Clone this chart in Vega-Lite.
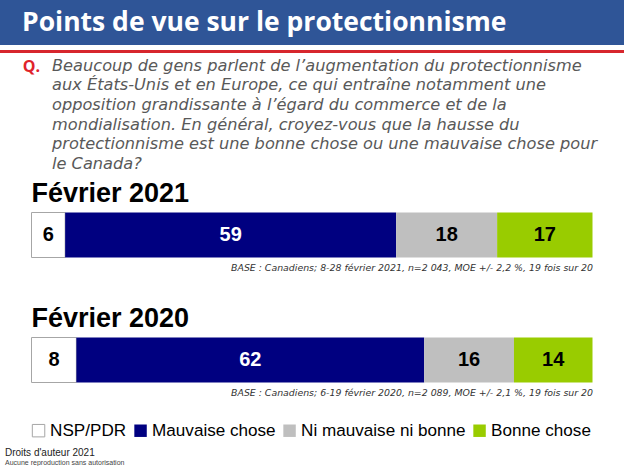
{
  "$schema": "https://vega.github.io/schema/vega-lite/v6.json",
  "padding": 0,
  "background": "white",
  "spacing": 0,
  "config": {
    "view": {"stroke": null},
    "concat": {"spacing": 0},
    "font": "Liberation Sans"
  },
  "datasets": {
    "bars": [
      {"periode": "Février 2021", "cat": "NSP/PDR", "ord": 1, "pct": 6},
      {"periode": "Février 2021", "cat": "Mauvaise chose", "ord": 2, "pct": 59},
      {"periode": "Février 2021", "cat": "Ni mauvaise ni bonne", "ord": 3, "pct": 18},
      {"periode": "Février 2021", "cat": "Bonne chose", "ord": 4, "pct": 17},
      {"periode": "Février 2020", "cat": "NSP/PDR", "ord": 1, "pct": 8},
      {"periode": "Février 2020", "cat": "Mauvaise chose", "ord": 2, "pct": 62},
      {"periode": "Février 2020", "cat": "Ni mauvaise ni bonne", "ord": 3, "pct": 16},
      {"periode": "Février 2020", "cat": "Bonne chose", "ord": 4, "pct": 14}
    ],
    "empty": [{"k": 1}]
  },
  "title": {
    "text": "Droits d'auteur 2021",
    "subtitle": "Aucune reproduction sans autorisation",
    "orient": "bottom",
    "anchor": "start",
    "frame": "bounds",
    "dx": 5,
    "offset": 9,
    "font": "Liberation Sans",
    "fontSize": 10,
    "fontWeight": "normal",
    "color": "#222222",
    "subtitleFont": "Liberation Sans",
    "subtitleFontSize": 7,
    "subtitleColor": "#444444",
    "subtitlePadding": 1
  },
  "vconcat": [
    {
      "width": 624,
      "height": 45,
      "view": {"fill": "#2F5597", "stroke": null},
      "data": {"name": "empty"},
      "mark": {"type": "text"},
      "encoding": {},
      "title": {
        "text": "Points de vue sur le protectionnisme",
        "orient": "top",
        "anchor": "start",
        "frame": "group",
        "offset": -36,
        "dx": 22,
        "font": "Open Sans",
        "fontSize": 26.5,
        "fontWeight": "bold",
        "color": "white"
      }
    },
    {
      "width": 624,
      "height": 3,
      "view": {"fill": "#D7262D", "stroke": null},
      "data": {"name": "empty"},
      "mark": {"type": "text"},
      "encoding": {}
    },
    {
      "center": true,
      "spacing": -18,
      "vconcat": [
        {
          "hconcat": [
            {
              "width": 52,
              "height": 0,
              "data": {"name": "empty"},
              "mark": {"type": "text"},
              "encoding": {},
              "title": {
                "text": "Q.",
                "orient": "top",
                "anchor": "end",
                "frame": "group",
                "dx": -12,
                "offset": 103.5,
                "font": "Open Sans",
                "fontSize": 16,
                "fontWeight": "bold",
                "color": "#E0232B"
              }
            },
            {
              "width": 572,
              "height": 0,
              "data": {"name": "empty"},
              "mark": {"type": "text"},
              "encoding": {},
              "title": {
                "text": [
                  "Beaucoup de gens parlent de l’augmentation du protectionnisme",
                  "aux États-Unis et en Europe, ce qui entraîne notamment une",
                  "opposition grandissante à l’égard du commerce et de la",
                  "mondialisation. En général, croyez-vous que la hausse du",
                  "protectionnisme est une bonne chose ou une mauvaise chose pour",
                  "le Canada?"
                ],
                "orient": "top",
                "anchor": "start",
                "frame": "group",
                "offset": 6,
                "font": "DejaVu Sans",
                "fontSize": 16.2,
                "fontStyle": "italic",
                "fontWeight": "normal",
                "lineHeight": 19.6,
                "color": "#595959"
              }
            }
          ]
        },
        {
          "spacing": 33,
          "vconcat": [
            {
              "width": 561,
              "height": 50,
              "title": {
                "text": "Février 2021",
                "anchor": "start",
                "frame": "group",
                "font": "Liberation Sans",
                "fontSize": 27,
                "fontWeight": "bold",
                "color": "#000000",
                "offset": 2
              },
              "data": {"name": "bars"},
              "transform": [
                {"filter": "datum.periode === 'Février 2021'"},
                {"stack": "pct", "groupby": ["periode"], "sort": [{"field": "ord"}], "as": ["x0", "x1"]},
                {"calculate": "(datum.x0 + datum.x1) / 2", "as": "xm"}
              ],
              "layer": [
                {
                  "mark": {"type": "bar", "strokeWidth": 1},
                  "encoding": {
                    "x": {
                      "field": "x0", "type": "quantitative",
                      "scale": {"domain": [0, 100], "nice": false},
                      "axis": {"labels": false, "ticks": false, "domain": false, "grid": false,
                        "title": "BASE : Canadiens; 8-28 février 2021, n=2 043, MOE +/- 2,2 %, 19 fois sur 20",
                        "titleAnchor": "end", "titleFont": "DejaVu Sans", "titleFontSize": 9.4, "titleFontStyle": "italic",
                        "titleFontWeight": "normal", "titleColor": "#333333", "titlePadding": 3}
                    },
                    "x2": {"field": "x1"},
                    "color": {
                      "field": "cat", "type": "nominal",
                      "scale": {"domain": ["NSP/PDR", "Mauvaise chose", "Ni mauvaise ni bonne", "Bonne chose"],
                        "range": ["#FFFFFF", "#000080", "#BFBFBF", "#99CC00"]},
                      "legend": {
                        "title": null, "orient": "none", "legendX": 30, "legendY": 422, "direction": "horizontal",
                        "symbolType": "square", "symbolSize": 155, "symbolStrokeWidth": 1, "symbolStrokeColor": "#A6A6A6",
                        "labelFont": "Liberation Sans", "labelFontSize": 17.1, "labelColor": "#000000",
                        "labelOffset": 3, "columnPadding": 5, "labelLimit": 300,
                        "encode": {"symbols": {"update": {
                          "stroke": {"signal": "datum.value === 'NSP/PDR' ? '#A6A6A6' : null"},
                          "strokeWidth": {"value": 1}
                        }}}
                      }
                    },
                    "stroke": {"condition": {"test": "datum.cat === 'NSP/PDR'", "value": "#A6A6A6"}, "value": null}
                  }
                },
                {
                  "mark": {"type": "text", "font": "Liberation Sans", "fontSize": 20, "fontWeight": "bold", "baseline": "middle"},
                  "encoding": {
                    "x": {"field": "xm", "type": "quantitative"},
                    "text": {"field": "pct", "type": "quantitative"},
                    "color": {"condition": {"test": "datum.cat === 'Mauvaise chose'", "value": "#FFFFFF"}, "value": "#000000"}
                  }
                }
              ]
            },
            {
              "width": 561,
              "height": 50,
              "title": {
                "text": "Février 2020",
                "anchor": "start",
                "frame": "group",
                "font": "Liberation Sans",
                "fontSize": 27,
                "fontWeight": "bold",
                "color": "#000000",
                "offset": 2
              },
              "data": {"name": "bars"},
              "transform": [
                {"filter": "datum.periode === 'Février 2020'"},
                {"stack": "pct", "groupby": ["periode"], "sort": [{"field": "ord"}], "as": ["x0", "x1"]},
                {"calculate": "(datum.x0 + datum.x1) / 2", "as": "xm"}
              ],
              "layer": [
                {
                  "mark": {"type": "bar", "strokeWidth": 1},
                  "encoding": {
                    "x": {
                      "field": "x0", "type": "quantitative",
                      "scale": {"domain": [0, 100], "nice": false},
                      "axis": {"labels": false, "ticks": false, "domain": false, "grid": false,
                        "title": "BASE : Canadiens; 6-19 février 2020, n=2 089, MOE +/- 2,1 %, 19 fois sur 20",
                        "titleAnchor": "end", "titleFont": "DejaVu Sans", "titleFontSize": 9.4, "titleFontStyle": "italic",
                        "titleFontWeight": "normal", "titleColor": "#333333", "titlePadding": 3}
                    },
                    "x2": {"field": "x1"},
                    "color": {
                      "field": "cat", "type": "nominal",
                      "scale": {"domain": ["NSP/PDR", "Mauvaise chose", "Ni mauvaise ni bonne", "Bonne chose"],
                        "range": ["#FFFFFF", "#000080", "#BFBFBF", "#99CC00"]}
                    },
                    "stroke": {"condition": {"test": "datum.cat === 'NSP/PDR'", "value": "#A6A6A6"}, "value": null}
                  }
                },
                {
                  "mark": {"type": "text", "font": "Liberation Sans", "fontSize": 20, "fontWeight": "bold", "baseline": "middle"},
                  "encoding": {
                    "x": {"field": "xm", "type": "quantitative"},
                    "text": {"field": "pct", "type": "quantitative"},
                    "color": {"condition": {"test": "datum.cat === 'Mauvaise chose'", "value": "#FFFFFF"}, "value": "#000000"}
                  }
                }
              ]
            }
          ]
        }
      ]
    }
  ]
}
